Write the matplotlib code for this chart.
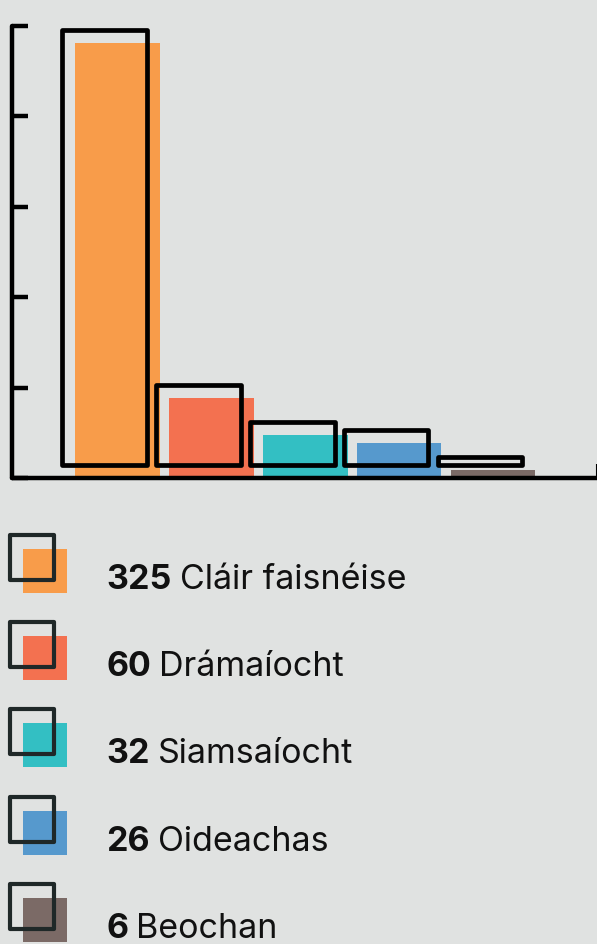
import matplotlib
matplotlib.use("Agg")
import matplotlib.pyplot as plt
import matplotlib.transforms as mtransforms
from matplotlib.patches import Rectangle
import numpy as np

# data
categories = ["Cláir faisnéise", "Drámaíocht", "Siamsaíocht", "Oideachas", "Beochan"]
counts = [325, 60, 32, 26, 6]
colors = ["#f89c4a", "#f37150", "#33bfc3", "#5699cd", "#7b6a66"]

BG = "#e0e2e1"
INK = "#000000"
LEG_INK = "#1f2828"
plt.rcParams["font.family"] = ["Inter", "DejaVu Sans"]

W, H = 597, 944
fig = plt.figure(figsize=(W / 100, H / 100), dpi=100, facecolor=BG)

# bar chart region (pixel bounds from the reference)
ax = fig.add_axes([12 / W, 1 - 478 / H, 585 / W, (478 - 26) / H])
ax.set_facecolor(BG)

x = np.arange(len(counts))
ymax = 338
xmin, xmax = -1.122, 5.106
ax.bar(x, counts, width=0.9, color=colors, zorder=1)

# black outline boxes, shifted up-left from each bar
shift = mtransforms.ScaledTranslation(-13 / 100, 13 / 100, fig.dpi_scale_trans)
for xi, v in zip(x, counts):
    ax.add_patch(Rectangle((xi - 0.45, 0), 0.9, v, fill=False, ec=INK, lw=3.4,
                           joinstyle="round", transform=ax.transData + shift,
                           clip_on=False, zorder=3))

ax.set_xlim(xmin, xmax)
ax.set_ylim(0, ymax)
ax.set_yticks(np.linspace(0, ymax, 6))
ax.set_yticklabels([])
ax.set_xticks([xmax])
ax.set_xticklabels([])
ax.tick_params(axis="y", direction="in", length=11.5, width=3.2, color=INK)
ax.tick_params(axis="x", direction="in", length=10, width=1.5, color=INK)
for side in ["top", "right"]:
    ax.spines[side].set_visible(False)
for side in ["left", "bottom"]:
    ax.spines[side].set_linewidth(3.2)
    ax.spines[side].set_color(INK)
    ax.spines[side].set_capstyle("round")
ax.spines["left"].set_bounds(0, ymax)

# legend area in pixel coordinates
lg = fig.add_axes([0, 0, 1, 1])
lg.set_xlim(0, W)
lg.set_ylim(H, 0)
lg.axis("off")
lg.patch.set_alpha(0)

row_step = 87.2
first_base = 589
for i, (name, n, c) in enumerate(zip(categories, counts, colors)):
    base = first_base + i * row_step
    lg.add_patch(Rectangle((23, base - 40), 44, 44, color=c, lw=0, zorder=1))
    lg.add_patch(Rectangle((9.5, base - 54), 44, 45, fill=False, ec=LEG_INK,
                           lw=3, joinstyle="round", zorder=2))
    num = lg.text(106, base, str(n), fontsize=24.5, fontweight="bold",
                  color="#111111", va="baseline", ha="left")
    lg.annotate(name, xy=(1, 0), xycoords=num, xytext=(6, 0),
                textcoords="offset points", fontsize=24.5, color="#111111",
                va="bottom", ha="left")

fig.savefig("out.png", dpi=100, facecolor=BG)
